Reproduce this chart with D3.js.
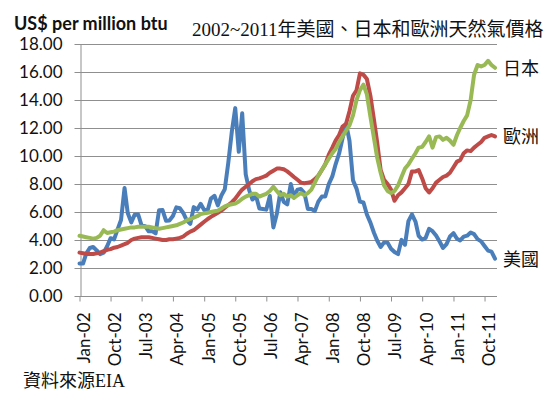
<!DOCTYPE html>
<html>
<head>
<meta charset="utf-8">
<script src="https://cdn.jsdelivr.net/npm/d3@7"></script>
<style>
  body { margin: 0; background: #fff; }
  svg { display: block; }
</style>
</head>
<body>
<div id="chart"></div>
<script>
// monthly prices, Jan-02 .. Jan-12 (US$ per million btu)
var usPrice = [
  2.32, 2.32, 3.03, 3.43, 3.50, 3.26, 2.99, 3.09, 3.55, 4.13, 4.04, 4.74,
  5.43, 7.71, 5.93, 5.26, 5.81, 5.82, 5.03, 4.99, 4.62, 4.63, 4.47, 6.13,
  6.14, 5.37, 5.39, 5.71, 6.33, 6.27, 5.93, 5.41, 5.15, 6.35, 6.17, 6.58,
  6.15, 6.14, 6.96, 7.16, 6.47, 7.18, 7.63, 9.53, 11.75, 13.42, 10.30, 13.05,
  8.69, 7.54, 6.89, 7.16, 6.25, 6.21, 6.17, 7.14, 4.90, 5.85, 7.41, 6.73,
  6.55, 8.00, 7.11, 7.60, 7.64, 7.35, 6.22, 6.22, 6.08, 6.74, 7.10, 7.11,
  7.99, 8.54, 9.41, 10.18, 11.27, 12.30, 11.09, 8.26, 7.67, 6.74, 6.68, 5.82,
  5.24, 4.52, 3.96, 3.50, 3.83, 3.80, 3.38, 3.14, 2.99, 4.01, 3.66, 5.35,
  5.83, 5.32, 4.29, 4.03, 4.14, 4.80, 4.63, 4.32, 3.89, 3.43, 3.71, 4.25,
  4.49, 4.09, 3.97, 4.24, 4.31, 4.54, 4.42, 4.06, 3.90, 3.57, 3.24, 3.17,
  2.67
];

var europePrice = [
  3.10, 3.05, 3.00, 3.00, 3.00, 3.05, 3.10, 3.20, 3.30, 3.35, 3.45, 3.50,
  3.60, 3.70, 3.80, 4.00, 4.10, 4.15, 4.20, 4.20, 4.20, 4.15, 4.10, 4.05,
  4.00, 4.00, 4.05, 4.05, 4.10, 4.15, 4.25, 4.45, 4.60, 4.70, 4.90, 5.10,
  5.30, 5.50, 5.65, 5.80, 5.95, 6.10, 6.30, 6.50, 6.70, 6.95, 7.30, 7.60,
  7.80, 8.00, 8.20, 8.35, 8.40, 8.50, 8.60, 8.80, 8.95, 9.10, 9.10, 9.05,
  8.90, 8.70, 8.50, 8.30, 8.10, 8.05, 8.10, 8.15, 8.35, 8.60, 9.00, 9.40,
  10.10, 10.60, 11.10, 11.50, 12.10, 12.30, 13.20, 14.30, 14.70, 15.90, 15.80, 15.50,
  14.30, 12.60, 11.00, 9.00, 8.30, 8.00, 7.60, 6.80, 7.20, 7.40, 7.70, 8.00,
  8.90, 8.90, 9.00, 8.40, 7.70, 7.40, 7.70, 8.10, 8.30, 8.50, 8.60, 8.80,
  9.20, 9.60, 9.70, 10.20, 10.40, 10.35, 10.60, 10.80, 11.00, 11.30, 11.40, 11.50,
  11.40
];

var japanPrice = [
  4.30, 4.25, 4.20, 4.15, 4.10, 4.15, 4.30, 4.70, 4.50, 4.55, 4.60, 4.70,
  4.75, 4.80, 4.85, 4.90, 4.90, 4.95, 4.95, 4.95, 4.95, 4.90, 4.85, 4.80,
  4.85, 4.90, 4.95, 5.00, 5.05, 5.15, 5.25, 5.40, 5.50, 5.60, 5.70, 5.85,
  5.90, 5.95, 6.00, 6.05, 6.10, 6.25, 6.40, 6.50, 6.55, 6.60, 6.75, 6.95,
  7.10, 7.20, 7.30, 7.30, 7.10, 7.20, 7.30, 7.50, 7.80, 7.50, 7.20, 7.30,
  7.10, 7.20, 7.00, 7.20, 7.35, 7.20, 7.35, 7.60, 8.10, 8.60, 9.00, 9.40,
  9.80, 10.20, 10.50, 11.00, 11.40, 11.80, 12.20, 12.90, 14.00, 14.70, 15.10, 14.40,
  12.80, 11.30, 9.90, 8.80, 7.90, 7.50, 7.35, 7.50, 7.90, 8.50, 9.10, 9.40,
  9.80, 10.20, 10.60, 10.65, 11.00, 11.40, 10.60, 11.35, 11.40, 11.15, 11.30, 11.10,
  10.80, 11.50, 12.00, 12.50, 12.90, 14.00, 15.80, 16.50, 16.40, 16.50, 16.80, 16.50,
  16.30
];

var seriesNames = ["美國", "歐洲", "日本"];
var seriesColors = ["#4a7ebb", "#be4b48", "#98b954"];
var yTickValues = [0, 2, 4, 6, 8, 10, 12, 14, 16, 18];
var xTickEvery = 9; // months between category labels

var width = 553,
    height = 397,
    plot_left = 80,
    plot_right = 497,
    plot_top = 44,
    plot_bottom = 296;

var latin = "Lato, 'Open Sans', sans-serif";
var ming = "'Liberation Serif', 'Noto Sans CJK TC', serif";

var months = d3.timeMonth.range(new Date(2002, 0, 1), new Date(2012, 1, 1));
var series = [usPrice, europePrice, japanPrice].map(function (values, i) {
  return {
    name: seriesNames[i],
    color: seriesColors[i],
    values: values.map(function (v, j) { return {date: months[j], value: v}; })
  };
});

var x = d3.scaleTime()
    .domain([months[0], months[months.length - 1]])
    .range([79.5, 495]);
var y = d3.scaleLinear()
    .domain([0, 18])
    .range([plot_bottom, plot_top]);

var svg = d3.select("#chart").append("svg")
    .attr("width", width)
    .attr("height", height);

// horizontal gridlines
svg.append("g")
    .selectAll("line")
    .data(yTickValues)
    .join("line")
    .attr("x1", plot_left)
    .attr("x2", plot_right)
    .attr("y1", function (d) { return Math.round(y(d)) + 0.5; })
    .attr("y2", function (d) { return Math.round(y(d)) + 0.5; })
    .attr("stroke", "#8f8f8f")
    .attr("stroke-width", 1);

// y axis
var yAxis = svg.append("g")
    .attr("transform", "translate(" + (plot_left + 0.5) + ",0)")
    .call(d3.axisLeft(y)
        .tickValues(yTickValues)
        .tickFormat(d3.format(".2f"))
        .tickSize(6)
        .tickSizeOuter(0)
        .tickPadding(12));
yAxis.select(".domain").attr("stroke", "#8f8f8f");
yAxis.selectAll(".tick line").attr("stroke", "#8f8f8f");
yAxis.selectAll("text")
    .style("font-family", latin)
    .style("font-size", "17px")
    .attr("fill", "#111");

// x axis
var xTicks = months.filter(function (d, i) { return i % xTickEvery === 0; });
var xAxis = svg.append("g")
    .attr("transform", "translate(0," + (plot_bottom + 0.5) + ")")
    .call(d3.axisBottom(x)
        .tickValues(xTicks)
        .tickFormat(d3.timeFormat("%b-%y"))
        .tickSize(5)
        .tickSizeOuter(0));
xAxis.select(".domain").remove();
xAxis.append("line")
    .attr("x1", plot_left)
    .attr("x2", plot_right)
    .attr("stroke", "#8f8f8f");
xAxis.selectAll(".tick line").attr("stroke", "#8f8f8f");
xAxis.selectAll("text")
    .attr("transform", "rotate(-90)")
    .attr("x", -16)
    .attr("y", 4)
    .attr("dy", "0.35em")
    .style("text-anchor", "end")
    .style("font-family", latin)
    .style("font-size", "17px")
    .attr("fill", "#111");

// price lines
var line = d3.line()
    .x(function (d) { return x(d.date); })
    .y(function (d) { return y(d.value); });

svg.append("g")
    .selectAll("path")
    .data(series)
    .join("path")
    .attr("d", function (d) { return line(d.values); })
    .attr("fill", "none")
    .attr("stroke", function (d) { return d.color; })
    .attr("stroke-width", 4)
    .attr("stroke-linejoin", "round")
    .attr("stroke-linecap", "round");

// series names at the end of each line
svg.append("g")
    .selectAll("text")
    .data(series)
    .join("text")
    .attr("x", 503)
    .attr("y", function (d) { return y(d.values[d.values.length - 1].value) + 7; })
    .text(function (d) { return d.name; })
    .style("font-family", ming)
    .style("font-size", "18px")
    .attr("fill", "#111");

// titles
svg.append("text")
    .attr("x", 14)
    .attr("y", 30)
    .text("US$ per million btu")
    .style("font-family", latin)
    .style("font-weight", "bold")
    .style("font-size", "18px")
    .attr("fill", "#111");

svg.append("text")
    .attr("x", 192)
    .attr("y", 36)
    .text("2002~2011年美國、日本和歐洲天然氣價格")
    .style("font-family", ming)
    .style("font-size", "19px")
    .attr("fill", "#111");

svg.append("text")
    .attr("x", 23)
    .attr("y", 387)
    .text("資料來源EIA")
    .style("font-family", ming)
    .style("font-size", "18px")
    .attr("fill", "#111");
</script>
</body>
</html>
